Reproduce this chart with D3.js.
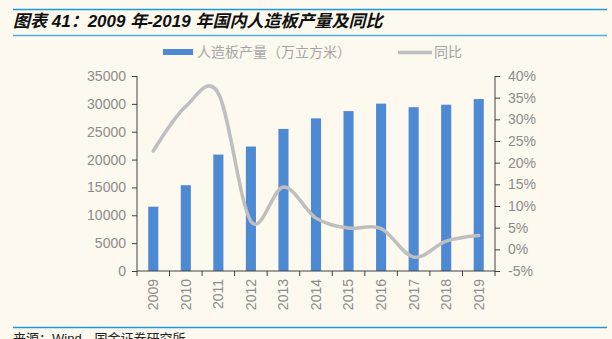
<!DOCTYPE html>
<html><head><meta charset="utf-8">
<script src="https://cdn.jsdelivr.net/npm/d3@7/dist/d3.min.js"></script>
<style>
html,body{margin:0;padding:0;background:#fdf9ee;}
svg{display:block;}
</style></head>
<body>
<svg id="c" width="612" height="339"></svg>
<script>
const years = ["2009","2010","2011","2012","2013","2014","2015","2016","2017","2018","2019"];
const output = [11540, 15400, 20900, 22340, 25500, 27400, 28700, 30040, 29400, 29850, 30860];
const yoy = [22.7, 33.0, 36.0, 6.5, 14.4, 7.2, 4.9, 4.8, -1.8, 1.9, 3.2];
const leftTicks = [0,5000,10000,15000,20000,25000,30000,35000];
const rightTicks = [-5,0,5,10,15,20,25,30,35,40];
const titleText = "图表 41：2009 年-2019 年国内人造板产量及同比";
const sourceText = "来源：Wind，国金证券研究所";
const legendBar = "人造板产量（万立方米）";
const legendLine = "同比";

const svg = d3.select("#c");
const font = "'Liberation Sans', Arial, 'Noto Sans CJK SC', sans-serif";
const grey = "#8c8c8c";
const axisCol = "#404040";

// header
svg.append("line").attr("x1",13).attr("x2",607).attr("y1",9.5).attr("y2",9.5).attr("stroke","#1d9ad6").attr("stroke-width",1.5);
svg.append("line").attr("x1",13).attr("x2",607).attr("y1",35.5).attr("y2",35.5).attr("stroke","#4ab2e2").attr("stroke-width",1.5);
svg.append("text").attr("x",13).attr("y",27).text(titleText)
  .attr("font-family",font).attr("font-size",17).attr("font-weight","bold").attr("font-style","italic").attr("fill","#111");
svg.append("line").attr("x1",13).attr("x2",607).attr("y1",327.5).attr("y2",327.5).attr("stroke","#1d9ad6").attr("stroke-width",1.5);
svg.append("text").attr("x",13).attr("y",343).text(sourceText)
  .attr("font-family",font).attr("font-size",13).attr("fill","#222");

const x = d3.scaleBand().domain(years).range([137,495]).paddingInner(0.69).paddingOuter(0.345);
const yL = d3.scaleLinear().domain([0,35000]).range([271,76]);
const yR = d3.scaleLinear().domain([-5,40]).range([271,76]);

// bars
svg.append("g").selectAll("rect").data(years).join("rect")
  .attr("x",d=>x(d)).attr("width",x.bandwidth())
  .attr("y",(d,i)=>yL(output[i])).attr("height",(d,i)=>yL(0)-yL(output[i]))
  .attr("fill","#4d8ad3");

// line
const line = d3.line().x((d,i)=>x(years[i])+x.bandwidth()/2).y(d=>yR(d)).curve(d3.curveCardinal.tension(0));
svg.append("path").datum(yoy).attr("d",line).attr("fill","none").attr("stroke","#bfbfbf").attr("stroke-width",3.5).attr("stroke-linecap","round");

// left axis
const gl = svg.append("g").attr("transform","translate(137,0)")
  .call(d3.axisLeft(yL).tickValues(leftTicks).tickSize(5).tickPadding(6).tickFormat(d3.format("d")));
gl.select(".domain").attr("stroke",axisCol).attr("d","M0,76V271");
gl.selectAll(".tick line").attr("stroke",axisCol);
gl.selectAll("text").attr("font-family",font).attr("font-size",14).attr("fill",grey);

// right axis
const gr = svg.append("g").attr("transform","translate(495,0)")
  .call(d3.axisRight(yR).tickValues(rightTicks).tickSize(5).tickPadding(8).tickFormat(d=>d+"%"));
gr.select(".domain").attr("stroke",axisCol).attr("d","M0,76V271");
gr.selectAll(".tick line").attr("stroke",axisCol);
gr.selectAll("text").attr("font-family",font).attr("font-size",14).attr("fill",grey);

// x axis
const gx = svg.append("g").attr("transform","translate(0,271)");
gx.append("line").attr("x1",137).attr("x2",495).attr("stroke",axisCol);
const bounds = years.map(d=>x(d)-(x.step()-x.bandwidth())/2).concat([495]);
gx.selectAll("line.tk").data(bounds).join("line").attr("class","tk")
  .attr("x1",d=>d).attr("x2",d=>d).attr("y1",0).attr("y2",5).attr("stroke",axisCol);
gx.selectAll("text").data(years).join("text")
  .attr("transform",d=>`translate(${x(d)+x.bandwidth()/2},8) rotate(-90)`)
  .attr("text-anchor","end").attr("dy","0.35em").text(d=>d)
  .attr("font-family",font).attr("font-size",14).attr("fill",grey);

// legend
const lg = svg.append("g");
lg.append("rect").attr("x",163).attr("y",49).attr("width",30).attr("height",6).attr("fill","#4d8ad3");
lg.append("text").attr("x",197).attr("y",52).attr("dy","0.35em").text(legendBar)
  .attr("font-family",font).attr("font-size",14).attr("fill","#a6a6a6");
lg.append("line").attr("x1",398).attr("x2",432).attr("y1",52.5).attr("y2",52.5).attr("stroke","#bfbfbf").attr("stroke-width",3.5);
lg.append("text").attr("x",434).attr("y",52).attr("dy","0.35em").text(legendLine)
  .attr("font-family",font).attr("font-size",14).attr("fill","#a6a6a6");
</script>
</body></html>
